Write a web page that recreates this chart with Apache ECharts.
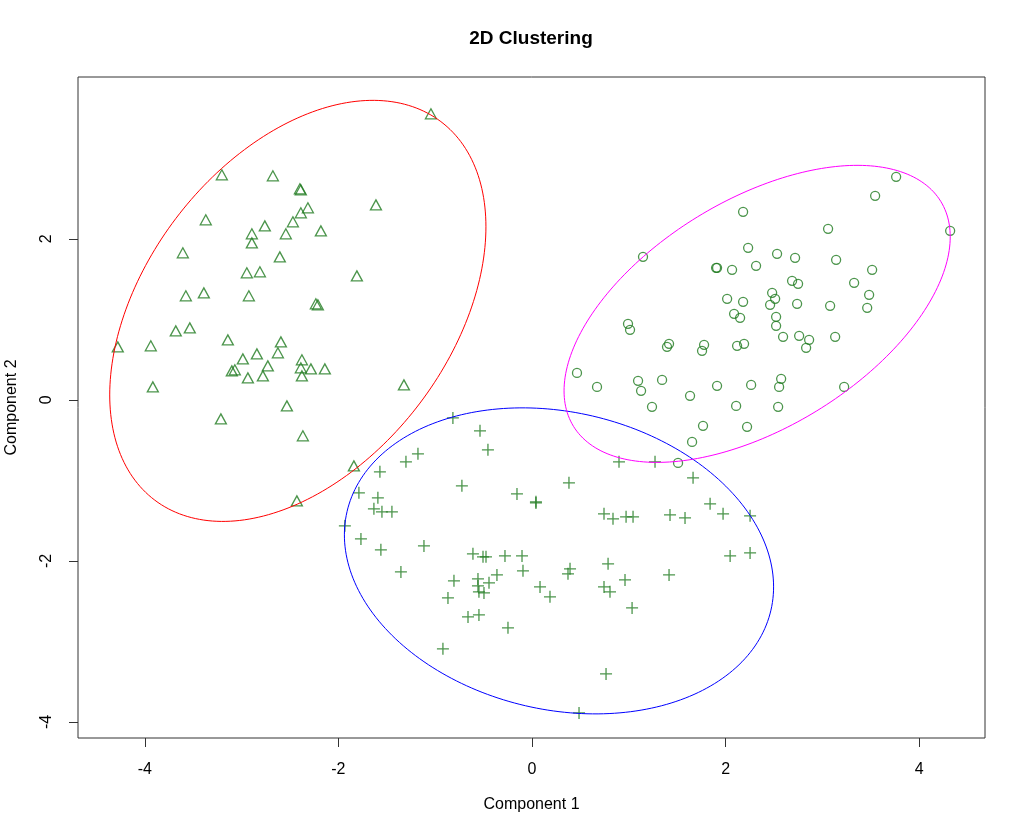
<!DOCTYPE html>
<html>
<head>
<meta charset="utf-8">
<script src="https://cdn.jsdelivr.net/npm/echarts@6/dist/echarts.min.js"></script>
<style>
html,body{margin:0;padding:0;background:#fff;}
#chart{width:1024px;height:813px;}
</style>
</head>
<body>
<div id="chart"></div>
<script>
// ---- data ----
const titleText = '2D Clustering';
const xName = 'Component 1';
const yName = 'Component 2';
const xTicks = [-4, -2, 0, 2, 4];
const yTicks = [-4, -2, 0, 2];

const cluster1 = [ // triangles
[-1.044,3.553],[-3.204,2.795],[-2.677,2.783],[-2.398,2.621],[-2.388,2.609],[-1.612,2.422],
[-2.315,2.385],[-2.388,2.323],[-2.470,2.211],[-3.370,2.236],[-2.760,2.161],[-2.181,2.099],
[-2.894,2.062],[-2.543,2.062],[-2.894,1.950],[-3.607,1.826],[-2.605,1.776],[-2.946,1.578],
[-2.811,1.590],[-1.809,1.540],[-3.576,1.292],[-3.390,1.329],[-2.925,1.292],[-2.233,1.193],
[-2.212,1.180],[-3.680,0.857],[-3.535,0.894],[-4.279,0.658],[-3.938,0.671],[-3.142,0.745],
[-2.594,0.720],[-2.987,0.509],[-2.842,0.571],[-2.625,0.584],[-2.377,0.497],[-2.729,0.422],
[-3.101,0.360],[-3.070,0.373],[-2.935,0.273],[-2.780,0.298],[-2.388,0.398],[-2.284,0.385],
[-2.140,0.385],[-2.377,0.298],[-3.917,0.161],[-1.323,0.186],[-2.532,-0.075],[-3.214,-0.236],
[-2.367,-0.447],[-1.840,-0.820],[-2.429,-1.255]
];

const cluster2 = [ // circles
[2.181,2.335],[1.147,1.776],[2.233,1.888],[2.532,1.814],[1.902,1.640],[1.912,1.640],
[2.067,1.615],[2.315,1.665],[2.016,1.255],[2.181,1.217],[2.481,1.329],[2.512,1.255],
[2.460,1.180],[3.762,2.770],[3.545,2.534],[3.059,2.124],[4.320,2.099],[2.718,1.764],
[3.142,1.739],[3.514,1.615],[2.687,1.478],[2.749,1.441],[3.328,1.453],[2.739,1.193],
[3.483,1.304],[3.080,1.168],[3.463,1.143],[0.992,0.944],[1.013,0.870],[2.088,1.068],
[2.150,1.019],[2.522,1.031],[2.522,0.919],[2.594,0.783],[2.760,0.795],[2.863,0.745],
[2.832,0.646],[3.132,0.783],[1.395,0.658],[1.416,0.696],[1.757,0.609],[1.778,0.683],
[2.119,0.671],[2.191,0.696],[0.465,0.335],[0.672,0.161],[1.096,0.236],[1.127,0.112],
[1.344,0.248],[1.633,0.050],[1.912,0.174],[2.264,0.186],[2.574,0.261],[2.553,0.161],
[3.225,0.161],[1.240,-0.087],[2.109,-0.075],[2.543,-0.087],[1.767,-0.323],[2.222,-0.335],
[1.654,-0.522],[1.509,-0.783]
];

const cluster3 = [ // plus signs
[-0.817,-0.224],[-0.537,-0.385],[-0.455,-0.621],[-1.178,-0.671],[-1.302,-0.770],[-1.571,-0.894],
[-0.724,-1.068],[-1.788,-1.155],[-1.592,-1.217],[-0.155,-1.168],[0.041,-1.267],[0.041,-1.280],
[-1.633,-1.354],[-1.550,-1.391],[-1.447,-1.391],[-1.933,-1.565],[-1.767,-1.727],[-1.561,-1.863],
[-1.116,-1.814],[-0.610,-1.913],[-0.506,-1.950],[-0.475,-1.950],[-0.279,-1.938],[-0.103,-1.938],
[-0.093,-2.124],[-1.354,-2.137],[-0.806,-2.248],[-0.558,-2.224],[-0.558,-2.311],[-0.548,-2.385],
[-0.496,-2.398],[-0.444,-2.273],[-0.362,-2.174],[0.083,-2.323],[0.186,-2.447],[-0.868,-2.460],
[0.899,-0.770],[1.271,-0.770],[0.382,-1.031],[1.664,-0.969],[1.840,-1.292],[1.974,-1.416],
[2.253,-1.441],[0.744,-1.416],[0.837,-1.478],[0.972,-1.453],[1.044,-1.453],[1.426,-1.429],
[1.581,-1.466],[2.047,-1.938],[2.253,-1.901],[0.786,-2.037],[0.393,-2.099],[0.372,-2.161],
[0.961,-2.236],[1.416,-2.174],[0.744,-2.323],[0.806,-2.385],[1.034,-2.584],[-0.661,-2.696],
[-0.548,-2.671],[-0.248,-2.832],[-0.920,-3.093],[0.765,-3.404],[0.486,-3.888]
];

// spanning ellipses: [centerX, centerY, varX, varY, covXY] in data units
const ellipseRed = [-2.419, 1.105, 3.776, 6.838, 2.029];
const ellipseBlue = [0.279, -2.000, 4.915, 3.612, -0.716];
const ellipseMagenta = [2.326, 1.068, 3.979, 3.403, 1.908];

// ---- build ----
function ellipsePath(e) {
  const [cx, cy, sxx, syy, sxy] = e;
  const a = Math.sqrt(sxx), b = sxy / a, c = Math.sqrt(syy - b * b);
  const pts = [];
  const n = 240;
  for (let i = 0; i <= n; i++) {
    const t = 2 * Math.PI * i / n;
    pts.push([cx + a * Math.cos(t), cy + b * Math.cos(t) + c * Math.sin(t)]);
  }
  return pts;
}

const green = '#1f7a1f';
const font = "'Liberation Sans', Arial, sans-serif";
const chart = echarts.init(document.getElementById('chart'), null, {renderer: 'canvas'});

function ellSeries(e, color) {
  return {
    type: 'line', data: ellipsePath(e), showSymbol: false, symbol: 'none',
    lineStyle: {color: color, width: 1}, silent: true, animation: false, z: 3
  };
}

chart.setOption({
  animation: false,
  backgroundColor: '#fff',
  graphic: [{
    type: 'text', x: 531, y: 39,
    style: {text: titleText, font: 'bold 19px ' + font, fill: '#000',
            textAlign: 'center', textVerticalAlign: 'middle'}
  }],
  grid: {left: 78, right: 39, top: 77, bottom: 75, show: true, containLabel: false,
         outerBoundsMode: 'none',
         borderColor: '#333', borderWidth: 1, backgroundColor: 'transparent'},
  xAxis: {
    type: 'value', min: -4.69, max: 4.68,
    name: xName, nameLocation: 'middle', nameGap: 59,
    nameTextStyle: {fontSize: 16, color: '#000', fontFamily: font},
    axisLine: {show: false, onZero: false},
    splitLine: {show: false},
    axisTick: {show: true, inside: false, length: 9, customValues: xTicks,
               lineStyle: {color: '#333', width: 1}},
    axisLabel: {customValues: xTicks, margin: 24, fontSize: 16, color: '#000', fontFamily: font}
  },
  yAxis: {
    type: 'value', min: -4.2, max: 4.01,
    name: yName, nameLocation: 'middle', nameGap: 58, nameRotate: 90,
    nameTextStyle: {fontSize: 16, color: '#000', fontFamily: font},
    axisLine: {show: false, onZero: false},
    splitLine: {show: false},
    axisTick: {show: true, inside: false, length: 9, customValues: yTicks,
               lineStyle: {color: '#333', width: 1}},
    axisLabel: {customValues: yTicks, margin: 23, rotate: 90, fontSize: 16, color: '#000', fontFamily: font}
  },
  series: [
    {type: 'scatter', data: cluster1, symbol: 'triangle', symbolSize: [11, 10],
     itemStyle: {color: 'rgba(0,0,0,0)', borderColor: green, borderWidth: 1.3}, z: 2},
    {type: 'scatter', data: cluster2, symbol: 'circle', symbolSize: 9,
     itemStyle: {color: 'rgba(0,0,0,0)', borderColor: green, borderWidth: 1.3}, z: 2},
    {type: 'scatter', data: cluster3, symbol: 'path://M0,5H10M5,0V10', symbolSize: 12,
     itemStyle: {color: 'rgba(0,0,0,0)', borderColor: green, borderWidth: 1.3}, z: 2},
    ellSeries(ellipseRed, '#ff0000'),
    ellSeries(ellipseBlue, '#0000ff'),
    ellSeries(ellipseMagenta, '#ff00ff')
  ]
});
</script>
</body>
</html>
